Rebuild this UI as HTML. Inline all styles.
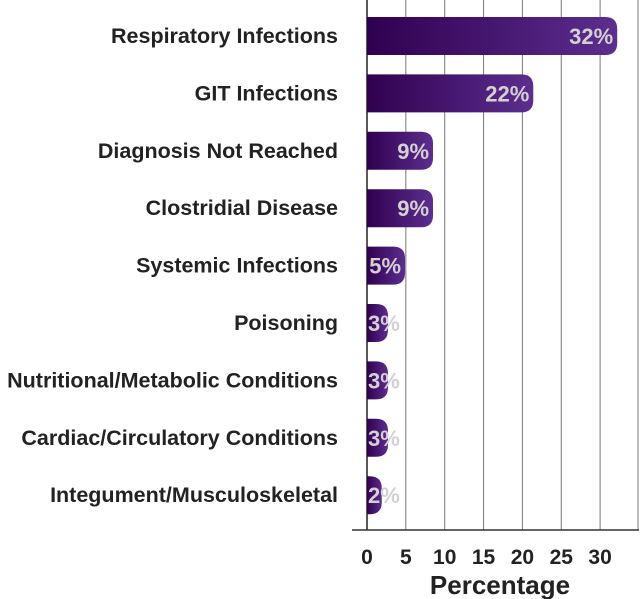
<!DOCTYPE html>
<html><head><meta charset="utf-8"><style>
body{margin:0;background:#fff;}
svg{display:block;font-family:"Liberation Sans",sans-serif;}
</style></head><body>
<svg id="chart" width="640" height="599">
<defs><linearGradient id="g" x1="0" x2="1" y1="0" y2="0"><stop offset="0" stop-color="#300050"/><stop offset="1" stop-color="#5c2e8e"/></linearGradient></defs>
<g id="grid"></g>
<g id="bars"></g>
<g id="labels"></g>
<g id="ticks"></g>
<text x="500" y="594" text-anchor="middle" font-size="26" font-weight="bold" fill="#222">Percentage</text>
</svg>
<script>
const categories=["Respiratory Infections","GIT Infections","Diagnosis Not Reached","Clostridial Disease","Systemic Infections","Poisoning","Nutritional/Metabolic Conditions","Cardiac/Circulatory Conditions","Integument/Musculoskeletal"];
const values=[32.2,21.4,8.5,8.5,4.9,2.7,2.7,2.7,1.9];
const valueLabels=["32%","22%","9%","9%","5%","3%","3%","3%","2%"];
const tickValues=[0,5,10,15,20,25,30];
const NS="http://www.w3.org/2000/svg";
const x0=367,sc=7.77;
const xs=v=>x0+v*sc;
const yc=i=>36+i*57.4;
const bh=38;
function mk(t,a,p){const e=document.createElementNS(NS,t);for(const k in a)e.setAttribute(k,a[k]);p.appendChild(e);return e;}
const grid=document.getElementById('grid'),bars=document.getElementById('bars'),labels=document.getElementById('labels'),ticks=document.getElementById('ticks');
tickValues.forEach(v=>{
 const l=mk('line',{x1:xs(v),x2:xs(v),y1:0,y2:530,stroke:v===0?'#222':'#777','stroke-width':v===0?1.5:1},grid);
 
 
 const t=mk('text',{x:xs(v),y:564,'text-anchor':'middle','font-size':21,'font-weight':'bold',fill:'#222'},ticks);
 t.textContent=v;
 
 
});
const rb=mk('line',{x1:638,x2:638,y1:0,y2:530,stroke:'#777','stroke-width':1},grid);


const ax=mk('line',{x1:352,x2:639,y1:530,y2:530,stroke:'#333','stroke-width':1.5},grid);


categories.forEach((c,i)=>{
 const y=yc(i),x1=xs(values[i]),w=x1-x0,r=Math.min(12,w,bh/2);
 const p=mk('path',{d:`M${x0},${y-bh/2} H${x1-r} Q${x1},${y-bh/2} ${x1},${y-bh/2+r} V${y+bh/2-r} Q${x1},${y+bh/2} ${x1-r},${y+bh/2} H${x0} Z`,fill:'url(#g)'},bars);
 
 
 const vt=mk('text',{y:y+8,'font-size':22,'font-weight':'bold',fill:'#d4d0d4'},bars);
 vt.textContent=valueLabels[i];
 
 
 const tw=vt.getComputedTextLength();
 vt.setAttribute('x',Math.max(x0+1,x1-4-tw));
 const lt=mk('text',{x:338,y:y+7,'text-anchor':'end','font-size':21.5,'font-weight':'bold',fill:'#222'},labels);
 lt.textContent=c;
 
 
});
</script>
</body></html>
